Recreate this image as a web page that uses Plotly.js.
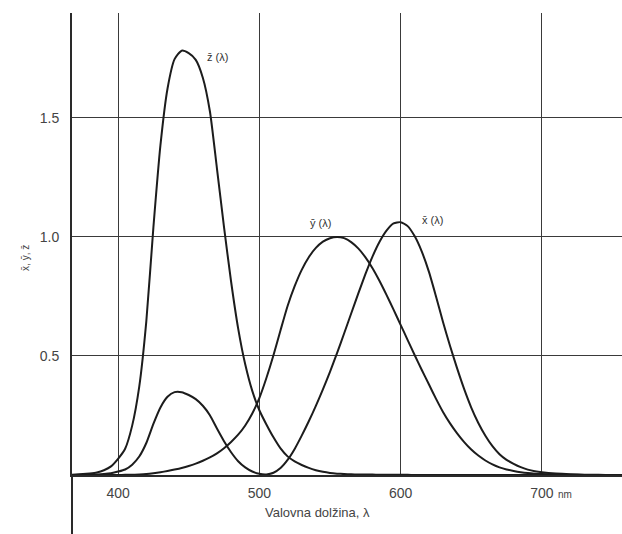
<!DOCTYPE html>
<html>
<head>
<meta charset="utf-8">
<script src="https://cdn.plot.ly/plotly-3.0.1.min.js"></script>
<style>html,body{margin:0;padding:0;background:#fff;}#chart{width:622px;height:534px;}</style>
</head>
<body>
<div id="chart"></div>
<script>
// Wavelength samples (nm)
const wavelengths = [360,370,380,385,390,395,400,405,410,415,420,425,430,435,440,445,450,455,460,465,470,475,480,485,490,495,500,505,510,515,520,525,530,535,540,545,550,555,560,565,570,575,580,585,590,595,600,605,610,615,620,625,630,635,640,645,650,655,660,665,670,675,680,685,690,695,700,710,720,730,740,750,760];
// x-bar(λ)
const xBar = [0.00013,0.000415,0.001368,0.002236,0.004243,0.00765,0.01431,0.02319,0.04351,0.07763,0.13438,0.21477,0.2839,0.3285,0.34828,0.34806,0.3362,0.3187,0.2908,0.2511,0.19536,0.1421,0.09564,0.05795,0.03201,0.0147,0.0049,0.0024,0.0093,0.0291,0.06327,0.1096,0.1655,0.22575,0.2904,0.3597,0.43345,0.51205,0.5945,0.6784,0.7621,0.8425,0.9163,0.9786,1.0263,1.0567,1.0622,1.0456,1.0026,0.9384,0.85445,0.7514,0.6424,0.5419,0.4479,0.3608,0.2835,0.2187,0.1649,0.1212,0.0874,0.0636,0.04677,0.0329,0.0227,0.01584,0.011359,0.00579,0.002899,0.00144,0.00069,0.000332,0.000166];
// y-bar(λ)
const yBar = [0.0000039,0.0000124,0.000039,0.000064,0.00012,0.000217,0.000396,0.00064,0.00121,0.00218,0.004,0.0073,0.0116,0.01684,0.023,0.0298,0.038,0.048,0.06,0.0739,0.09098,0.1126,0.13902,0.1693,0.20802,0.2586,0.323,0.4073,0.503,0.6082,0.71,0.7932,0.862,0.91485,0.954,0.9803,0.99495,1.0,0.995,0.9786,0.952,0.9154,0.87,0.8163,0.757,0.6949,0.631,0.5668,0.503,0.4412,0.381,0.321,0.265,0.217,0.175,0.1382,0.107,0.0816,0.061,0.04458,0.032,0.0232,0.017,0.01192,0.00821,0.005723,0.004102,0.002091,0.001047,0.00052,0.000249,0.00012,0.00006];
// z-bar(λ)
const zBar = [0.000606,0.001946,0.00645,0.01055,0.02005,0.03621,0.06785,0.1102,0.2074,0.3713,0.6456,1.03905,1.3856,1.62296,1.74706,1.7826,1.77211,1.7441,1.6692,1.5281,1.28764,1.0419,0.81295,0.6162,0.46518,0.3533,0.272,0.2123,0.1582,0.1117,0.07825,0.05725,0.04216,0.02984,0.0203,0.0134,0.00875,0.00575,0.0039,0.00275,0.0021,0.0018,0.00165,0.0014,0.0011,0.001,0.0008,0.0006,0.00034,0.00024,0.00019,0.0001,0.00005,0.00003,0.00002,0.00001,0,0,0,0,0,0,0,0,0,0,0,0,0,0,0,0,0];
const xTicks = [400,500,600,700];
const xTickText = ['400','500','600','700'];
const yTicks = [0.5,1.0,1.5];
const yTickText = ['0.5','1.0','1.5'];
const curveLabels = [
  {text:'z\u0304 (\u03bb)', x:461.5, y:1.756},
  {text:'y\u0304 (\u03bb)', x:534.4, y:1.059},
  {text:'x\u0304 (\u03bb)', x:613.7, y:1.071}
];

const lineStyle = {color:'#1c1c1c', width:2, shape:'spline', smoothing:0.6};
const traces = [xBar, yBar, zBar].map(v => ({
  x: wavelengths, y: v, type:'scatter', mode:'lines', line: lineStyle,
  hoverinfo:'skip', showlegend:false
}));

const font = {family:'"Liberation Sans", Arial, sans-serif', color:'#444'};
const annotations = curveLabels.map(l => ({
  x:l.x, y:l.y, xref:'x', yref:'y', text:l.text, showarrow:false,
  xanchor:'left', yanchor:'middle', font:{...font, size:11, color:'#333'}
}));
annotations.push({x:710, y:0, xref:'x', yref:'y', yshift:-19, text:'nm', showarrow:false,
  xanchor:'left', yanchor:'middle', font:{...font, size:10, color:'#444'}});
annotations.push({x:-0.0836, y:0.47, xref:'paper', yref:'paper', text:'x\u0304, y\u0304, z\u0304',
  textangle:-90, showarrow:false, xanchor:'center', yanchor:'middle', font:{...font, size:10, color:'#444'}});
annotations.push({x:0.447, y:-0.082, xref:'paper', yref:'paper', text:'Valovna dol\u017eina, \u03bb',
  showarrow:false, xanchor:'center', yanchor:'middle', font:{...font, size:13, color:'#444'}});

const layout = {
  width:622, height:534,
  margin:{l:72, r:0, t:13, b:59},
  paper_bgcolor:'#fff', plot_bgcolor:'#fff',
  font: font,
  xaxis:{
    range:[367.4, 756.7], tickvals:xTicks, ticktext:xTickText,
    showgrid:true, gridcolor:'#3a3a3a', gridwidth:1,
    showline:true, linecolor:'#2a2a2a', linewidth:2,
    zeroline:false, ticks:'', ticklabelstandoff:4,
    tickfont:{...font, size:14, color:'#444'}
  },
  yaxis:{
    range:[0, 1.941], tickvals:yTicks, ticktext:yTickText,
    showgrid:true, gridcolor:'#3a3a3a', gridwidth:1,
    showline:true, linecolor:'#2a2a2a', linewidth:2,
    zeroline:false, ticks:'', ticklabelstandoff:8,
    tickfont:{...font, size:14, color:'#444'}
  },
  shapes:[
    {type:'line', xref:'paper', yref:'paper', x0:0, x1:0, y0:0, y1:-0.14,
     line:{color:'#2a2a2a', width:2}}
  ],
  annotations: annotations
};

Plotly.newPlot('chart', traces, layout, {staticPlot:true, displayModeBar:false});
</script>
</body>
</html>
